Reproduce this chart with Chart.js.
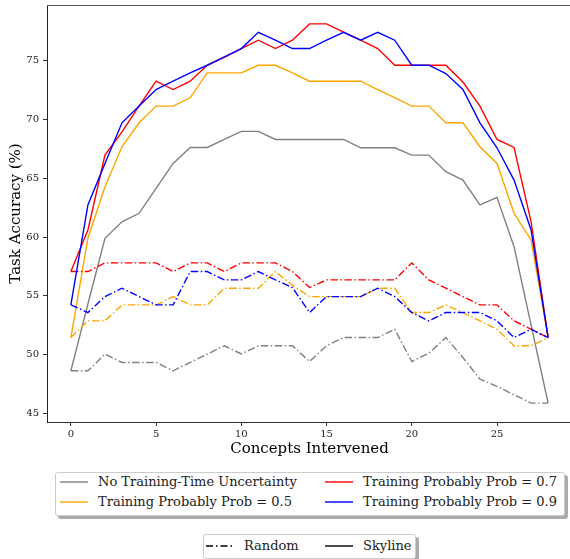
<!DOCTYPE html>
<html>
<head>
<meta charset="utf-8">
<script src="https://cdn.jsdelivr.net/npm/chart.js@4.4.1/dist/chart.umd.min.js"></script>
<style>
  body { margin: 0; overflow: hidden; background: #fff; font-family: "DejaVu Serif", serif; }
  #wrap { position: relative; width: 570px; height: 559px; overflow: hidden; }
  #chart { position: absolute; left: 0; top: 0; }
  .box { position: absolute; background: #fff; border: 1px solid #ccc; border-radius: 3px; box-shadow: 3px 3px 0 #aaa; }
  .txt { position: absolute; font-size: 13px; line-height: 16px; color: #222; white-space: nowrap; }
  .smp { position: absolute; }
</style>
</head>
<body>
<div id="wrap">
  <canvas id="chart" width="573" height="460"></canvas>
  <div class="box" style="left:55px;top:472px;width:508px;height:42px;"></div>
  <div class="box" style="left:203px;top:534px;width:211px;height:23px;"></div>
</div>
<script>
// x values (number of concepts intervened)
const concepts = [0,1,2,3,4,5,6,7,8,9,10,11,12,13,14,15,16,17,18,19,20,21,22,23,24,25,26,27,28];
const xTicks = [0,5,10,15,20,25];
const yTicks = [45,50,55,60,65,70,75];

// model names + colours
const modelNames = ['No Training-Time Uncertainty', 'Training Probably Prob = 0.5', 'Training Probably Prob = 0.7', 'Training Probably Prob = 0.9'];
const modelColors = ['#808080', '#ffa500', '#ff0000', '#0000ff'];
const policyNames = ['Random', 'Skyline'];

// skyline (solid) curves
const skyNoUnc = [48.61,54.3,59.89,61.3,62.02,64.15,66.27,67.63,67.63,68.31,69.0,69.0,68.31,68.31,68.31,68.31,68.31,67.6,67.6,67.6,66.98,66.98,65.56,64.85,62.73,63.38,59.18,52.5,45.86];
const sky05 = [51.44,59.9,64.29,67.69,69.73,71.15,71.15,71.86,73.98,73.98,73.98,74.63,74.63,73.98,73.27,73.27,73.27,73.27,72.56,71.88,71.15,71.15,69.73,69.73,67.69,66.27,62.02,59.75,51.44];
const sky07 = [57.06,60.6,66.98,68.96,71.15,73.27,72.56,73.27,74.63,75.3,76.05,76.76,76.05,76.76,78.15,78.15,77.44,76.76,76.05,74.63,74.63,74.63,74.63,73.2,71.15,68.31,67.63,61.3,51.44];
const sky09 = [54.22,62.73,66.27,69.73,71.15,72.56,73.27,73.98,74.63,75.34,76.05,77.44,76.76,76.05,76.05,76.76,77.44,76.76,77.44,76.76,74.63,74.63,73.92,72.56,69.73,67.6,64.85,60.6,51.44];

// random (dash-dot) curves
const rndNoUnc = [48.61,48.61,50.03,49.32,49.32,49.32,48.61,49.32,50.03,50.74,50.05,50.74,50.74,50.74,49.4,50.74,51.44,51.44,51.44,52.15,49.4,50.11,51.44,49.74,47.9,47.28,46.57,45.86,45.86];
const rnd05 = [51.44,52.86,52.86,54.22,54.22,54.22,54.93,54.22,54.22,55.64,55.64,55.64,57.06,55.9,54.93,54.93,54.93,54.93,55.64,55.64,53.57,53.57,54.22,53.57,52.86,52.15,50.74,50.74,51.44];
const rnd07 = [57.06,57.06,57.8,57.8,57.8,57.8,57.06,57.8,57.8,57.06,57.8,57.8,57.8,57.06,55.7,56.35,56.35,56.35,56.35,56.35,57.8,56.35,55.64,54.93,54.22,54.22,52.86,52.15,51.44];
const rnd09 = [54.22,53.57,54.93,55.64,54.93,54.22,54.22,57.06,57.06,56.35,56.35,57.06,56.35,55.7,53.57,54.93,54.93,54.93,55.64,54.93,53.57,52.86,53.57,53.57,53.57,52.86,51.44,52.15,51.44];

const skyline = [skyNoUnc, sky05, sky07, sky09];
const random = [rndNoUnc, rnd05, rnd07, rnd09];

const dashDot = [7.5, 2.5, 1.5, 2.5];
const serif = 'DejaVu Serif';

// build datasets in plotting order, then reverse so the last one sits on top
var datasets = [];
for (let m = 0; m < modelNames.length; m++) {
    datasets.push({
        label: modelNames[m] + ' (' + policyNames[0] + ')',
        data: concepts.map((c, i) => ({x: c, y: random[m][i]})),
        borderColor: modelColors[m],
        borderDash: dashDot,
        borderWidth: 1.4
    });
    datasets.push({
        label: modelNames[m] + ' (' + policyNames[1] + ')',
        data: concepts.map((c, i) => ({x: c, y: skyline[m][i]})),
        borderColor: modelColors[m],
        borderWidth: 1.4
    });
}
datasets.reverse();

// top spine
const frame = {
    id: 'frame',
    afterDraw(chart) {
        const {ctx, chartArea: a} = chart;
        ctx.save();
        ctx.strokeStyle = '#555';
        ctx.lineWidth = 1;
        ctx.beginPath();
        ctx.moveTo(a.left, Math.round(a.top) + 0.5);
        ctx.lineTo(a.right, Math.round(a.top) + 0.5);
        ctx.stroke();
        ctx.restore();
    }
};

new Chart(document.getElementById('chart'), {
    type: 'line',
    data: {datasets: datasets},
    plugins: [frame],
    options: {
        responsive: false,
        animation: false,
        devicePixelRatio: 1,
        layout: {padding: {top: 5, right: 1, left: 0, bottom: 0}},
        elements: {point: {radius: 0}, line: {tension: 0, fill: false}},
        plugins: {legend: {display: false}, tooltip: {enabled: false}},
        scales: {
            x: {
                type: 'linear', min: -1.4, max: 29.4,
                afterBuildTicks: s => { s.ticks = xTicks.map(v => ({value: v})); },
                afterFit: s => { s.height = 38; s.paddingLeft = 0; s.paddingRight = 0; },
                grid: {drawOnChartArea: false, drawTicks: true, tickLength: 4, tickColor: '#333'},
                border: {display: true, color: '#333', width: 1},
                ticks: {font: {family: serif, size: 10}, color: '#222', padding: 2, maxRotation: 0, autoSkip: false},
                title: {display: true, text: 'Concepts Intervened', color: '#000',
                        font: {family: serif, size: 15}, padding: {top: 0, bottom: 2}}
            },
            y: {
                min: 44.25, max: 79.76,
                afterBuildTicks: s => { s.ticks = yTicks.map(v => ({value: v})); },
                afterFit: s => { s.width = 47; s.paddingTop = 0; s.paddingBottom = 0; },
                grid: {drawOnChartArea: false, drawTicks: true, tickLength: 4, tickColor: '#333'},
                border: {display: true, color: '#222', width: 1},
                ticks: {font: {family: serif, size: 10}, color: '#222', padding: 4},
                title: {display: true, text: 'Task Accuracy (%)', color: '#000',
                        font: {family: serif, size: 15}, padding: {top: 7, bottom: 0}}
            }
        }
    }
});

// html legends
const wrap = document.getElementById('wrap');
function addItem(x, y, text, color, dash) {
    var svg = document.createElementNS('http://www.w3.org/2000/svg', 'svg');
    svg.setAttribute('class', 'smp');
    svg.setAttribute('width', 28);
    svg.setAttribute('height', 6);
    svg.style.left = x + 'px';
    svg.style.top = (y - 3) + 'px';
    var line = document.createElementNS('http://www.w3.org/2000/svg', 'line');
    line.setAttribute('x1', 0); line.setAttribute('x2', 28);
    line.setAttribute('y1', 3); line.setAttribute('y2', 3);
    line.setAttribute('stroke', color);
    line.setAttribute('stroke-width', 1.4);
    if (dash) line.setAttribute('stroke-dasharray', dash.join(' '));
    svg.appendChild(line);
    wrap.appendChild(svg);
    var span = document.createElement('span');
    span.className = 'txt';
    span.textContent = text;
    span.style.left = (x + 38) + 'px';
    span.style.top = (y - 8) + 'px';
    wrap.appendChild(span);
}
addItem(60, 482, modelNames[0], modelColors[0]);
addItem(60, 502, modelNames[1], modelColors[1]);
addItem(325, 482, modelNames[2], modelColors[2]);
addItem(325, 502, modelNames[3], modelColors[3]);
addItem(206, 546, policyNames[0], '#000', [7, 3, 1.5, 3]);
addItem(325, 546, policyNames[1], '#000');
</script>
</body>
</html>
